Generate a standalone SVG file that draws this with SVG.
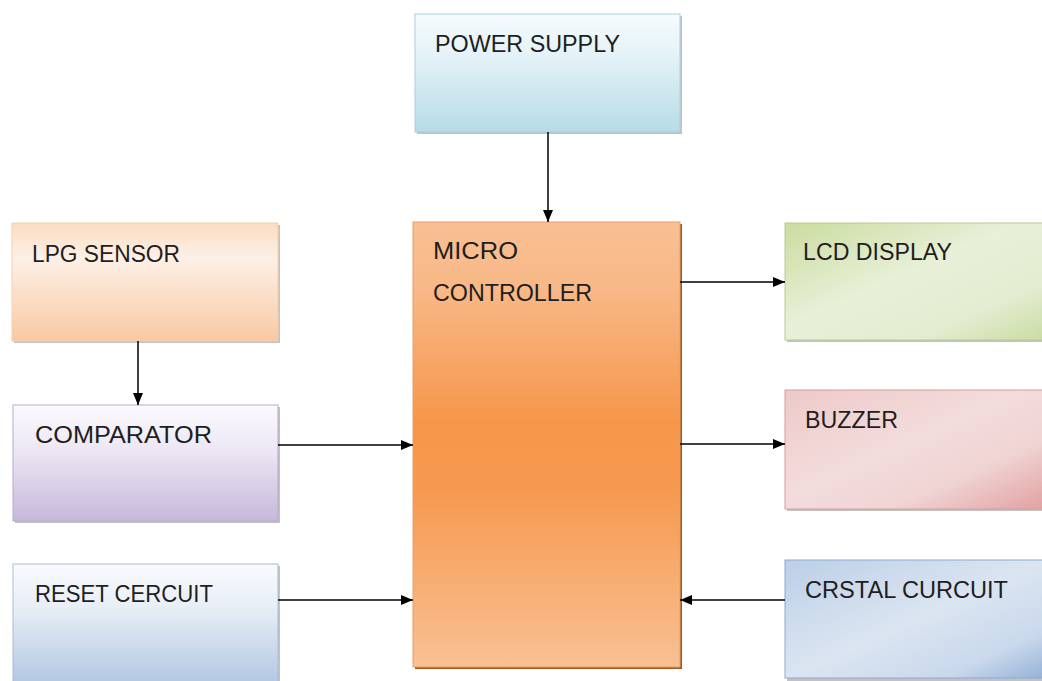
<svg xmlns="http://www.w3.org/2000/svg" width="1042" height="681" viewBox="0 0 1042 681">
<defs>
<linearGradient id="gPower" x1="0" y1="0" x2="0" y2="1">
<stop offset="0" stop-color="#f6fbfd"/><stop offset="0.35" stop-color="#e4f2f7"/><stop offset="1" stop-color="#b6dce7"/>
</linearGradient>
<linearGradient id="gLpg" x1="0" y1="0" x2="0" y2="1">
<stop offset="0" stop-color="#fbdcc2"/><stop offset="0.3" stop-color="#fdf0e6"/><stop offset="1" stop-color="#f9c9a2"/>
</linearGradient>
<linearGradient id="gComp" x1="0" y1="0" x2="0" y2="1">
<stop offset="0" stop-color="#fbfafd"/><stop offset="0.4" stop-color="#ece6f3"/><stop offset="1" stop-color="#c6b8da"/>
</linearGradient>
<linearGradient id="gMicro" x1="0" y1="0" x2="0" y2="1">
<stop offset="0" stop-color="#f9bf92"/><stop offset="0.15" stop-color="#f8b887"/><stop offset="0.45" stop-color="#f6964a"/><stop offset="0.6" stop-color="#f6994f"/><stop offset="1" stop-color="#f9c093"/>
</linearGradient>
<linearGradient id="gLcd" x1="0" y1="0" x2="1" y2="1">
<stop offset="0" stop-color="#cadc9f"/><stop offset="0.45" stop-color="#e8f0d8"/><stop offset="0.75" stop-color="#e3ecd0"/><stop offset="1" stop-color="#c9dca2"/>
</linearGradient>
<linearGradient id="gBuzz" x1="0" y1="0" x2="1" y2="1">
<stop offset="0" stop-color="#eec9c9"/><stop offset="0.45" stop-color="#f3dcdc"/><stop offset="0.7" stop-color="#f0d4d4"/><stop offset="1" stop-color="#e2a0a0"/>
</linearGradient>
<linearGradient id="gCrys" x1="0" y1="0" x2="1" y2="1">
<stop offset="0" stop-color="#bccfe7"/><stop offset="0.5" stop-color="#dbe5f1"/><stop offset="0.8" stop-color="#c9d8ec"/><stop offset="1" stop-color="#93b1d7"/>
</linearGradient>
<linearGradient id="gReset" x1="0" y1="0" x2="0" y2="1">
<stop offset="0" stop-color="#f8fafd"/><stop offset="0.35" stop-color="#e9eff7"/><stop offset="1" stop-color="#b3c8e3"/>
</linearGradient>
<marker id="arr" viewBox="0 0 12 10" refX="12" refY="5" markerWidth="12" markerHeight="10" markerUnits="userSpaceOnUse" orient="auto">
<path d="M0,0 L12,5 L0,10 Z" fill="#000"/>
</marker>
<style>
.box{stroke-width:1}
.shadow{fill:#9a9a9a;opacity:0.6}
.lbl{font-family:"Liberation Sans",Arial,sans-serif;font-size:23px;fill:#1e1e1e}
.conn{stroke:#000;stroke-width:1.5;fill:none;marker-end:url(#arr)}
</style>
</defs>
<rect width="1042" height="681" fill="#ffffff"/>

<g id="power-supply">
<rect class="shadow" x="417" y="16" width="265" height="118"/>
<rect class="box" x="415" y="14" width="265" height="118" fill="url(#gPower)" stroke="#a9cfdb"/>
<text class="lbl" x="435" y="52" textLength="185" lengthAdjust="spacingAndGlyphs">POWER SUPPLY</text>
</g>

<g id="lpg-sensor">
<rect class="shadow" x="14" y="225" width="266" height="118"/>
<rect class="box" x="12" y="223" width="266" height="118" fill="url(#gLpg)" stroke="#f5cfae"/>
<text class="lbl" x="32" y="262" textLength="148" lengthAdjust="spacingAndGlyphs">LPG SENSOR</text>
</g>

<g id="comparator">
<rect class="shadow" x="15" y="407" width="265" height="116"/>
<rect class="box" x="13" y="405" width="265" height="116" fill="url(#gComp)" stroke="#b8aacd"/>
<text class="lbl" x="35" y="443" textLength="177" lengthAdjust="spacingAndGlyphs">COMPARATOR</text>
</g>

<g id="reset-circuit">
<rect class="shadow" x="15" y="566" width="265" height="118"/>
<rect class="box" x="13" y="564" width="265" height="118" fill="url(#gReset)" stroke="#a9bcd6"/>
<text class="lbl" x="35" y="602" textLength="178" lengthAdjust="spacingAndGlyphs">RESET CERCUIT</text>
</g>

<g id="micro-controller">
<rect x="415" y="224" width="267" height="445" fill="#9c5a22"/>
<rect class="box" x="413" y="222" width="267" height="445" fill="url(#gMicro)" stroke="#e6a06a"/>
<text class="lbl" x="433" y="259" textLength="85" lengthAdjust="spacingAndGlyphs">MICRO</text>
<text class="lbl" x="433" y="301" textLength="159" lengthAdjust="spacingAndGlyphs">CONTROLLER</text>
</g>

<g id="lcd-display">
<rect class="shadow" x="787" y="225" width="260" height="117"/>
<rect class="box" x="785" y="223" width="262" height="117" fill="url(#gLcd)" stroke="#b8cc90"/>
<text class="lbl" x="803" y="260" textLength="149" lengthAdjust="spacingAndGlyphs">LCD DISPLAY</text>
</g>

<g id="buzzer">
<rect class="shadow" x="787" y="392" width="260" height="119"/>
<rect class="box" x="785" y="390" width="262" height="119" fill="url(#gBuzz)" stroke="#d99a9a"/>
<text class="lbl" x="805" y="428" textLength="93" lengthAdjust="spacingAndGlyphs">BUZZER</text>
</g>

<g id="crystal-circuit">
<rect class="shadow" x="787" y="562" width="260" height="120"/>
<rect class="box" x="785" y="560" width="262" height="118" fill="url(#gCrys)" stroke="#8eaad0"/>
<text class="lbl" x="805" y="598" textLength="203" lengthAdjust="spacingAndGlyphs">CRSTAL CURCUIT</text>
</g>

<g id="connectors">
<line class="conn" x1="548" y1="132" x2="548" y2="222"/>
<line class="conn" x1="138" y1="341" x2="138" y2="405"/>
<line class="conn" x1="278" y1="445" x2="413" y2="445"/>
<line class="conn" x1="278" y1="600" x2="413" y2="600"/>
<line class="conn" x1="680" y1="282" x2="785" y2="282"/>
<line class="conn" x1="680" y1="444" x2="785" y2="444"/>
<line class="conn" x1="785" y1="600" x2="680" y2="600"/>
</g>
</svg>
